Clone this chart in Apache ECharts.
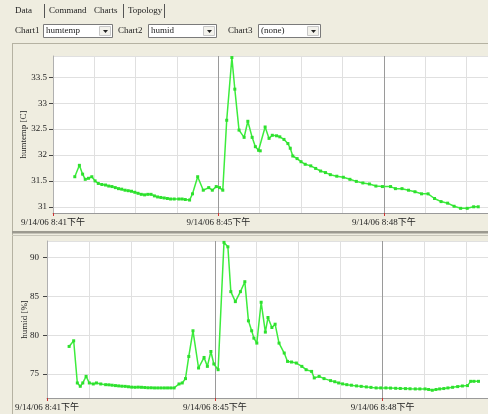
<!DOCTYPE html>
<html><head><meta charset="utf-8">
<script src="https://cdn.jsdelivr.net/npm/echarts@6/dist/echarts.min.js"></script>
<style>html,body{margin:0;padding:0;background:#EFEDE0;overflow:hidden}#c{width:488px;height:414px}</style>
</head><body><div id="c"></div>
<script>
const tabs = ['Data', 'Command', 'Charts', 'Topology'];
const chartNames = ['Chart1', 'Chart2', 'Chart3'];
const chartChoices = ['humtemp', 'humid', '(none)'];
const tempAxisName = 'humtemp [C]';
const humidAxisName = 'humid [%]';
const xTickPos = [0, 4, 8];
const xTickLabels = ['9/14/06 8:41下午', '9/14/06 8:45下午', '9/14/06 8:48下午'];

const tempTime = [0.527,0.638,0.716,0.780,0.858,0.939,1.017,1.095,1.182,1.270,1.348,1.426,1.506,1.584,1.662,1.742,1.820,1.898,1.979,2.057,2.135,2.215,2.293,2.371,2.452,2.530,2.608,2.688,2.766,2.844,2.931,3.043,3.121,3.199,3.303,3.374,3.499,3.634,3.766,3.853,3.948,4.026,4.106,4.201,4.326,4.397,4.499,4.622,4.712,4.816,4.894,4.972,5.012,5.130,5.225,5.303,5.407,5.485,5.586,5.681,5.738,5.799,5.903,5.998,6.099,6.234,6.352,6.471,6.589,6.707,6.863,7.021,7.180,7.336,7.494,7.652,7.809,7.967,8.163,8.281,8.440,8.598,8.754,8.913,9.071,9.227,9.385,9.544,9.700,9.858,10.017,10.173,10.284];
const tempValue = [31.58,31.80,31.63,31.53,31.55,31.58,31.50,31.45,31.43,31.42,31.40,31.39,31.37,31.35,31.34,31.32,31.31,31.30,31.28,31.26,31.24,31.23,31.24,31.24,31.21,31.19,31.18,31.17,31.16,31.15,31.15,31.15,31.15,31.14,31.13,31.25,31.58,31.32,31.37,31.32,31.39,31.37,31.32,32.67,33.88,33.27,32.48,32.34,32.65,32.34,32.16,32.09,32.08,32.54,32.32,32.38,32.37,32.35,32.30,32.22,32.13,31.98,31.93,31.87,31.82,31.79,31.74,31.69,31.66,31.62,31.59,31.57,31.53,31.49,31.46,31.44,31.40,31.39,31.39,31.35,31.35,31.32,31.29,31.25,31.25,31.16,31.10,31.07,31.01,30.97,30.97,31.00,31.00];

const humidTime = [0.527,0.636,0.723,0.793,0.853,0.932,1.009,1.103,1.179,1.282,1.399,1.476,1.552,1.632,1.709,1.786,1.865,1.942,2.019,2.098,2.175,2.252,2.331,2.408,2.485,2.564,2.641,2.718,2.797,2.874,2.951,3.030,3.147,3.224,3.301,3.380,3.480,3.613,3.744,3.823,3.907,3.977,4.079,4.219,4.312,4.382,4.490,4.611,4.716,4.802,4.879,4.932,5.002,5.105,5.205,5.268,5.361,5.438,5.531,5.655,5.734,5.828,5.944,6.075,6.177,6.308,6.371,6.487,6.604,6.760,6.860,6.953,7.047,7.147,7.256,7.380,7.490,7.613,7.723,7.846,7.956,8.079,8.189,8.312,8.422,8.545,8.655,8.779,8.888,9.012,9.098,9.184,9.273,9.361,9.459,9.557,9.669,9.790,9.902,10.023,10.100,10.177,10.287];
const humidValue = [78.55,79.28,73.84,73.41,73.84,74.69,73.84,73.71,73.84,73.71,73.62,73.60,73.55,73.50,73.46,73.42,73.40,73.35,73.30,73.28,73.30,73.28,73.25,73.22,73.22,73.20,73.20,73.20,73.20,73.20,73.20,73.20,73.71,73.84,74.40,77.26,80.57,75.77,77.13,75.98,77.90,76.29,75.55,91.97,91.40,85.62,84.33,85.62,86.90,81.85,80.57,79.62,78.98,84.25,80.40,82.28,80.99,81.42,78.98,77.70,76.62,76.54,76.41,75.98,75.55,75.33,74.49,74.69,74.40,74.14,74.00,73.84,73.72,73.62,73.55,73.46,73.40,73.33,73.27,73.20,73.20,73.20,73.18,73.15,73.13,73.11,73.09,73.07,73.07,73.07,73.00,72.90,73.00,73.07,73.12,73.20,73.28,73.37,73.45,73.50,74.05,74.05,74.05];

const FONT = '"Liberation Serif", "Noto Sans CJK SC", serif';
const TXT = '#222222';

function pairs(xs, ys) { return xs.map((x, i) => [x, ys[i]]); }
function majorLabel(v) {
  for (let i = 0; i < xTickPos.length; i++) if (Math.abs(v - xTickPos[i]) < 1e-6) return xTickLabels[i];
  return '';
}

const chart = echarts.init(document.getElementById('c'), null, {renderer: 'canvas'});

const grids = [
  {left: 53, top: 56, width: 445, height: 157},
  {left: 47, top: 241, width: 451, height: 157}
];
const xMax = [445 / 42.3, 451 / 42.9];

function gridAxis(gi) {
  return {
    type: 'value', gridIndex: gi, min: 0, max: xMax[gi], interval: 1,
    axisLine: {show: true, lineStyle: {color: '#9a9a9a', width: 1}},
    axisTick: {show: false}, axisLabel: {show: false},
    splitLine: {show: true, lineStyle: {color: ['#9a9a9a', '#e0e0e0', '#e0e0e0', '#e0e0e0'], width: 1}}
  };
}
function labelAxis(gi) {
  return {
    type: 'value', gridIndex: gi, min: 0, max: xMax[gi], interval: 4, position: 'bottom',
    axisLine: {show: false},
    axisTick: {show: true, length: 3, lineStyle: {color: '#d03030', width: 1}},
    axisLabel: {show: true, margin: 5, fontSize: 9, fontFamily: FONT, color: TXT,
      formatter: majorLabel, showMinLabel: true, showMaxLabel: false},
    splitLine: {show: false}
  };
}
function yAxis(gi, min, max, split, name, gap, margin) {
  return {
    type: 'value', gridIndex: gi, min: min, max: max, splitNumber: split,
    name: name, nameLocation: 'middle', nameRotate: 90, nameGap: gap, nameMoveOverlap: false,
    nameTextStyle: {fontSize: 9, fontFamily: FONT, color: TXT},
    axisLine: {show: true, lineStyle: {color: '#b0b0b0'}},
    axisTick: {show: true, length: 4, lineStyle: {color: '#444'}},
    axisLabel: {fontSize: 9, fontFamily: FONT, color: TXT, margin: margin,
      showMinLabel: false, showMaxLabel: false},
    splitLine: {show: true, lineStyle: {color: '#e0e0e0'}}
  };
}

const graphic = [];
const tabX = [15, 49, 94, 128];
tabs.forEach((t, i) => graphic.push({type: 'text', x: tabX[i], y: 11,
  style: {text: t, font: '9px ' + FONT, fill: TXT, verticalAlign: 'middle'}}));
[44, 123, 164].forEach(x => graphic.push({type: 'line', shape: {x1: x + 0.5, y1: 4, x2: x + 0.5, y2: 18},
  style: {stroke: '#555', lineWidth: 1}}));
const labX = [15, 118, 228];
const boxX = [43, 148, 258];
const boxW = [69, 68, 62];
chartNames.forEach((n, i) => {
  graphic.push({type: 'text', x: labX[i], y: 31, style: {text: n, font: '9px ' + FONT, fill: TXT, verticalAlign: 'middle'}});
  graphic.push({type: 'rect', shape: {x: boxX[i] + 0.5, y: 24.5, width: boxW[i], height: 13},
    style: {fill: '#ffffff', stroke: '#7a7a7a', lineWidth: 1}});
  graphic.push({type: 'text', x: boxX[i] + 3, y: 31, style: {text: chartChoices[i], font: '9px ' + FONT, fill: TXT, verticalAlign: 'middle'}});
  const bx = boxX[i] + boxW[i] - 13;
  graphic.push({type: 'rect', shape: {x: bx + 0.5, y: 26.5, width: 11, height: 9},
    style: {fill: '#f3f2ec', stroke: '#c8c8c8', lineWidth: 1}});
  graphic.push({type: 'polygon', shape: {points: [[bx + 4, 30], [bx + 9, 30], [bx + 6.5, 33]]},
    style: {fill: '#222'}});
});
graphic.push({type: 'line', shape: {x1: 12, y1: 43.5, x2: 488, y2: 43.5}, style: {stroke: '#b5b2a2', lineWidth: 1}});
graphic.push({type: 'line', shape: {x1: 12.5, y1: 43, x2: 12.5, y2: 414}, style: {stroke: '#b5b2a2', lineWidth: 1}});
graphic.push({type: 'rect', shape: {x: 12, y: 231, width: 476, height: 2.5}, style: {fill: '#9c9a90'}});
graphic.push({type: 'line', shape: {x1: 12, y1: 235.5, x2: 488, y2: 235.5}, style: {stroke: '#c8c6ba', lineWidth: 1}});

const lineStyle = {color: '#3cec3c', width: 1.5};
const itemStyle = {color: '#2ee02e'};

chart.setOption({
  animation: false,
  backgroundColor: '#EFEDE0',
  grid: grids.map(g => Object.assign({show: true, backgroundColor: '#ffffff', borderWidth: 0, containLabel: false}, g)),
  xAxis: [gridAxis(0), labelAxis(0), gridAxis(1), labelAxis(1)],
  yAxis: [
    yAxis(0, 30.88, 33.91, 6, tempAxisName, 25, 6),
    yAxis(1, 71.9, 92.15, 4, humidAxisName, 18, 8)
  ],
  series: [
    {type: 'line', xAxisIndex: 0, yAxisIndex: 0, data: pairs(tempTime, tempValue),
      symbol: 'rect', symbolSize: 3, showAllSymbol: true, lineStyle, itemStyle, clip: true},
    {type: 'line', xAxisIndex: 2, yAxisIndex: 1, data: pairs(humidTime, humidValue),
      symbol: 'rect', symbolSize: 3, showAllSymbol: true, lineStyle, itemStyle, clip: true}
  ],
  graphic: graphic
});
</script>
</body></html>
